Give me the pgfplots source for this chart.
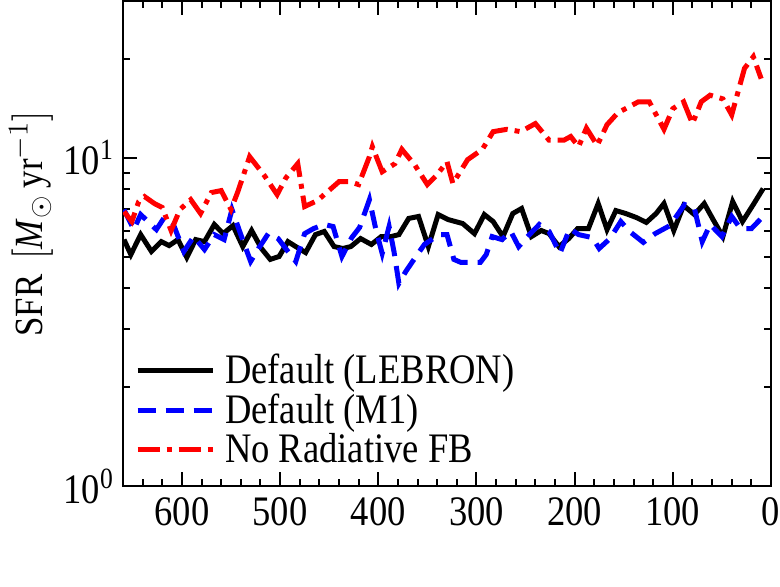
\documentclass[border=0pt]{standalone}
\usepackage{fontspec}
\setmainfont{Liberation Serif}[FakeStretch=0.87]
\usepackage{pgfplots}
\pgfplotsset{compat=1.18}
\newcommand{\bigfont}{\fontsize{21}{24}\selectfont}
\begin{document}
\begin{tikzpicture}
\begin{axis}[
  scale only axis, width=324pt, height=242.5pt,
  xmin=0, xmax=660, x dir=reverse,
  ymode=log, ymin=1, ymax=30,
  xtick={0,100,...,600}, minor xtick={20,40,...,660},
  ytick={1,10}, yticklabels={10\textsuperscript{0},10\textsuperscript{1}},
  minor ytick={2,3,...,9,20,30},
  tick align=inside,
  xtick pos=both, ytick pos=both,
  major tick length=7pt, minor tick length=3.5pt,
  every tick/.style={black, line width=1pt},
  axis line style={line width=1pt},
  /pgf/number format/assume math mode=true,
  tick label style={font=\bigfont},
  xticklabel style={yshift=-2pt},
  yticklabel style={xshift=-1pt},
  ylabel={SFR\ \,$\big[$\textit{M}$_\odot$\,yr$^{-1}\big]$},
  every axis y label/.style={at={(rel axis cs:0,0.54)}, xshift=-46pt, rotate=90, anchor=center, font=\fontsize{20}{24}\selectfont},
  legend style={at={(rel axis cs:0.015,0.285)}, anchor=north west, draw=none, fill=none,
    font=\bigfont, row sep=-0.5pt, inner sep=1pt,
    /tikz/every odd column/.append style={column sep=3pt}},
  legend cell align=left,
  legend image code/.code={\draw[#1] (0pt,0pt) -- (37.5pt,0pt);},
  every axis plot/.append style={line join=miter},
]
\addplot[black, line width=2.5pt] coordinates {
(659,5.63)(652,5.07)(642,5.83)(631,5.18)(621,5.55)(613,5.40)(604,5.63)(595,4.97)(586,5.63)(577,5.55)
(567,6.26)(558,5.87)(548,6.21)(538,5.36)(529,6.00)(519,5.29)(510,4.90)(501,5.00)(492,5.55)(484,5.36)
(474,5.14)(464,5.83)(455,5.96)(445,5.36)(436,5.29)(428,5.36)(418,5.67)(407,5.44)(397,5.75)(387,5.75)
(379,5.83)(369,6.53)(359,6.62)(349,5.36)(339,6.71)(329,6.48)(314,6.30)(302,5.87)(292,6.71)(283,6.39)
(273,5.75)(263,6.76)(254,7.00)(244,5.75)(234,6.00)(226,5.87)(216,5.36)(206,5.67)(197,6.08)(186,6.08)
(176,7.25)(167,6.04)(158,6.90)(148,6.76)(137,6.57)(127,6.35)(117,6.76)(109,7.25)(99,6.00)(89,7.15)
(78,6.71)(68,7.25)(59,6.48)(49,5.75)(39,7.35)(29,6.39)(18,7.20)(8,8.05)};
\addlegendentry{Default (LEBRON)}
\addplot[blue, line width=2.5pt, dash pattern=on 9pt off 5pt] coordinates {
(659,6.95)(649,6.04)(642,6.71)(626,6.04)(618,6.57)(609,6.30)(598,5.18)(588,5.75)(577,5.25)(567,5.83)
(557,5.63)(549,6.95)(540,5.83)(530,4.83)(522,5.29)(512,5.87)(502,5.67)(492,5.18)(484,4.83)(475,5.87)
(466,6.08)(455,6.26)(446,6.17)(437,5.00)(427,5.71)(419,6.13)(409,7.45)(402,5.96)(396,5.11)(389,6.17)
(384,5.18)(379,4.14)(372,4.50)(363,4.93)(353,5.44)(338,5.83)(330,5.83)(323,4.90)(316,4.80)(296,4.80)
(290,5.07)(284,5.75)(274,5.63)(265,5.96)(257,5.36)(248,5.75)(236,6.26)(226,5.96)(215,5.11)(205,6.08)
(196,5.83)(182,5.71)(175,5.29)(164,5.67)(153,6.39)(144,5.96)(130,5.52)(118,5.87)(103,6.21)(88,7.20)
(78,7.00)(70,5.55)(62,6.26)(50,5.75)(40,6.62)(31,6.08)(20,6.08)(10,6.53)};
\addlegendentry{Default (M1)}
\addplot[red, line width=2.5pt, dash pattern=on 11pt off 3.5pt on 2.5pt off 3.5pt] coordinates {
(659,6.85)(651,6.39)(644,7.35)(638,7.61)(628,7.25)(620,7.05)(611,6.00)(602,6.95)(591,7.45)(581,6.76)
(570,7.83)(560,7.94)(550,6.95)(543,7.88)(531,10.07)(516,8.82)(503,7.72)(494,8.69)(482,9.59)(475,7.10)
(462,7.40)(440,8.45)(429,8.45)(420,8.28)(409,10.07)(406,10.8)(396,9.06)(383,9.59)(376,10.6)(363,9.52)
(350,8.28)(340,8.88)(330,9.72)(324,8.34)(309,9.86)(294,10.6)(283,12.0)(269,12.2)(255,12.0)(240,12.7)
(226,11.3)(211,11.3)(204,11.6)(196,10.8)(188,12.3)(177,10.9)(167,12.6)(156,13.7)(135,14.8)(124,14.8)
(109,12.2)(100,14.1)(89,14.8)(80,12.7)(71,14.8)(62,15.5)(49,15.1)(40,13.5)(33,16.1)(27,18.7)
(18,20.3)(10,17.4)};
\addlegendentry{No Radiative FB}
\coordinate (sw) at (rel axis cs:0,0);
\coordinate (ne) at (rel axis cs:1,1);
\end{axis}
\pgfresetboundingbox
\path ([shift={(-61.5pt,-50pt)}]sw) rectangle ([shift={(4.5pt,0.5pt)}]ne);
\end{tikzpicture}
\end{document}
